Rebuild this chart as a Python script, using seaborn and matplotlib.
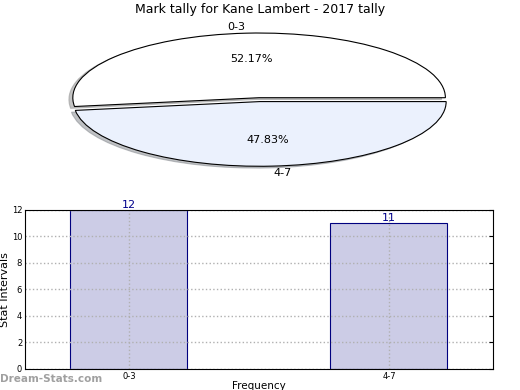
import matplotlib
matplotlib.use("Agg")
import matplotlib.pyplot as plt
import seaborn as sns
import pandas as pd

# data
categories = ['0-3', '4-7']
counts = [12, 11]
title = 'Mark tally for Kane Lambert - 2017 tally'

sns.set_style("white")
plt.rcParams['font.family'] = ['DejaVu Sans']
plt.rcParams['text.color'] = 'black'
plt.rcParams['axes.labelcolor'] = 'black'

fig = plt.figure(figsize=(5.2, 3.9), dpi=100)

# pie (stretched into an ellipse)
ax_pie = fig.add_axes([0.13, 0.572, 0.738, 0.345])
ax_pie.pie(counts, labels=categories, autopct='%1.2f%%', startangle=0,
           explode=(0.03, 0.03),
           shadow={'ox': -0.015, 'oy': -0.02, 'shade': 0.45},
           colors=['#ffffff', '#ebf1fd'],
           wedgeprops={'edgecolor': 'black', 'linewidth': 0.8},
           textprops={'fontsize': 8, 'color': 'black'})
ax_pie.set_aspect('auto')
ax_pie.set_xlim(-1.03, 1.03)
ax_pie.set_ylim(-1.04, 1.04)
ax_pie.axis('off')
fig.text(0.5, 0.993, title, ha='center', va='top', fontsize=9)

# bars
ax = fig.add_axes([0.048, 0.054, 0.9, 0.408])
df = pd.DataFrame({'cat': categories, 'n': counts})
sns.barplot(data=df, x='cat', y='n', ax=ax, color='#ccccE6', saturation=1,
            width=0.45, edgecolor='#00007f', linewidth=0.8)
ax.set_xlim(-0.4, 1.4)
ax.set_ylim(0, 12)
ax.set_yticks(range(0, 13, 2))
ax.set_axisbelow(False)
ax.grid(True, linestyle=':', color='#b0b0b0', linewidth=1)
for s in ax.spines.values():
    s.set_color('black')
    s.set_linewidth(0.8)
    s.set_zorder(5)
ax.tick_params(labelsize=6, direction='in', length=3, right=True, top=False,
               colors='black', pad=2)
ax.set_ylabel('Stat Intervals', fontsize=8, labelpad=1)
ax.set_xlabel('Frequency', fontsize=7.5, labelpad=0)
for i, v in enumerate(counts):
    ax.text(i, v, str(v), ha='center', va='bottom', fontsize=8, color='#00008b')

fig.text(0.0, 0.015, 'Dream-Stats.com', fontsize=7.5, color='#a0a0a0',
         fontweight='bold', ha='left', va='bottom')

fig.savefig('out.png', dpi=100)
